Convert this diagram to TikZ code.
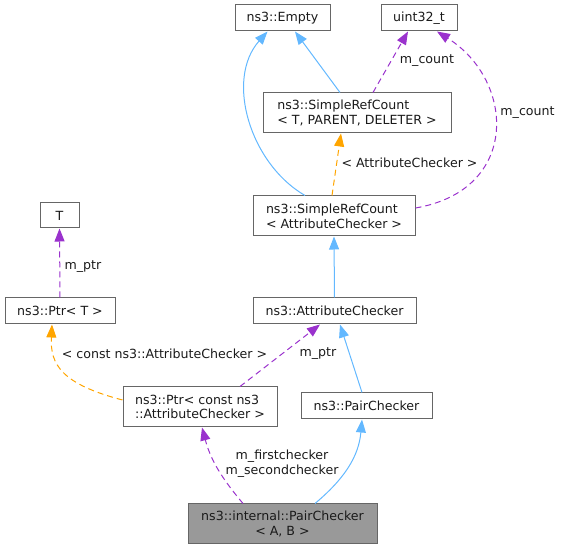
\documentclass[tikz,border=0pt]{standalone}
\usepackage{fontspec}
\setmainfont{DejaVu Sans}
\usetikzlibrary{arrows.meta}
\definecolor{eblue}{HTML}{63B8FF}
\definecolor{epurple}{HTML}{9A32CD}
\definecolor{eorange}{HTML}{FFA500}
\definecolor{bgray}{HTML}{666666}
\definecolor{fgray}{HTML}{999999}
\definecolor{tcol}{HTML}{1A1A1A}
\begin{document}
\begin{tikzpicture}[x=1pt,y=1pt,
  box/.style={draw=bgray, line width=1pt, fill=white, inner sep=0pt, text=tcol,
    font=\fontsize{12.6}{14.7}\selectfont},
  lbl/.style={inner sep=0pt, text=tcol, font=\fontsize{12.6}{14.7}\selectfont},
  tip/.style={-{Triangle[length=13pt,width=10pt]}},
  inh/.style={tip, draw=eblue, line width=1pt},
  use/.style={tip, draw=epurple, line width=1pt, dash pattern=on 6pt off 4pt},
  tmpl/.style={tip, draw=eorange, line width=1pt, dash pattern=on 6pt off 4pt}
]
\useasboundingbox (0,0) rectangle (563,549);

\node[box, minimum width=95, minimum height=26] (empty) at (282.5,531) {ns3::Empty};
\node[box, minimum width=76, minimum height=26] (uint) at (419,531) {uint32\_t};
\node[box, minimum width=188, minimum height=40, align=left] (srcT) at (357,436) {ns3::SimpleRefCount\\< T, PARENT, DELETER >};
\node[box, minimum width=162, minimum height=40, align=left] (srcA) at (334,333) {ns3::SimpleRefCount\\< AttributeChecker >};
\node[box, minimum width=39, minimum height=25] (T) at (59.5,333.5) {T};
\node[box, minimum width=110, minimum height=26] (ptrT) at (60,238) {ns3::Ptr< T >};
\node[box, minimum width=163, minimum height=26] (attr) at (334.5,238) {ns3::AttributeChecker};
\node[box, minimum width=154, minimum height=40, align=left] (ptrC) at (200,142) {ns3::Ptr< const ns3\\::AttributeChecker >};
\node[box, minimum width=131, minimum height=26] (pair) at (366.5,143) {ns3::PairChecker};
\node[box, fill=fgray, minimum width=189, minimum height=40, align=center] (ipc) at (282.5,25) {ns3::internal::PairChecker\\< A, B >};

% inheritance
\draw[inh] ([xshift=-29]srcA.north) .. controls +(-55,32) and +(-42.5,-48) .. ([xshift=-15]empty.south);
\draw[inh] ([xshift=-17]srcT.north) -- ([xshift=12.5]empty.south);
\draw[inh] (attr.north) -- (srcA.south);
\draw[inh] ([xshift=-4.5]pair.north) -- ([xshift=5.5]attr.south);
\draw[inh] ([xshift=32.5]ipc.north) to[out=40, in=-95] ([xshift=-4.5]pair.south);

% usage
\draw[use] ([xshift=16]srcT.north) -- ([xshift=-11]uint.south);
\draw[use] ([yshift=8]srcA.east) .. controls +(105,18) and +(78,-49) .. ([xshift=18]uint.south);
\draw[use] (ptrT.north) -- (T.south);
\draw[use] ([xshift=40]ptrC.north) -- ([xshift=-14.5]attr.south);
\draw[use] ([xshift=-39.5]ipc.north) to[out=130, in=-75] ([xshift=2]ptrC.south);

% template
\draw[tmpl] ([xshift=-2]srcA.north) -- ([xshift=-16]srcT.south);
\draw[tmpl] ([yshift=7]ptrC.west) .. controls +(-61,16) and +(-2,-40) .. ([xshift=-8]ptrT.south);

% labels
\node[lbl] (l1) at (427,488) {m\_count};
\node[lbl] (l2) at (527.5,436) {m\_count};
\node[lbl] (l3) at (409.5,386) {< AttributeChecker >};
\node[lbl] (l4) at (83,282) {m\_ptr};
\node[lbl] (l5) at (164.5,195) {< const ns3::AttributeChecker >};
\node[lbl] (l6) at (318,195) {m\_ptr};
\node[lbl, align=center] (l7) at (282,85) {m\_firstchecker\\m\_secondchecker};
\end{tikzpicture}
\end{document}
